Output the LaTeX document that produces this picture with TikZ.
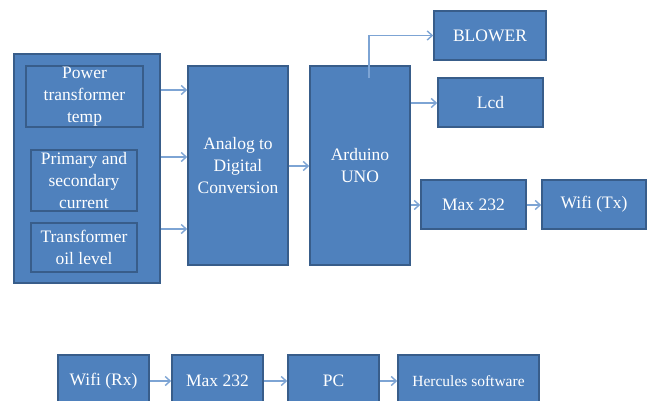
\documentclass[tikz,border=0pt]{standalone}
\usepackage{fontspec}
\setmainfont{Liberation Serif}
\usetikzlibrary{arrows.meta}
\definecolor{boxfill}{HTML}{4F81BD}
\definecolor{boxline}{HTML}{385D8A}
\definecolor{arrcol}{HTML}{7DA4D4}
\begin{document}
\begin{tikzpicture}[x=1pt,y=1pt,
  blk/.style={draw=boxline,fill=boxfill,line width=1.5pt,text=white,align=center,inner sep=0pt,
    font=\fontsize{17.5}{22}\selectfont},
  arr/.style={draw=arrcol,line width=1.4pt,-{Straight Barb[length=5pt,width=9pt]}}]
\useasboundingbox (0,0) rectangle (647,400);
\clip (0,0) rectangle (647,400);
% helper: box from corners (x1,y1top) (x2,y2bottom) in image px
\newcommand{\blkbox}[6][]{%
  \node[blk,minimum width={#4-#2},minimum height={#5-#3},#1] (#6) at ({(#2+#4)/2},{400-(#3+#5)/2}) {};}
\blkbox{14}{54}{160}{283}{outer}
\node[blk,minimum width=117,minimum height=61] (p1) at (84.5,{400-96.5}) {Power\\transformer\\temp};
\node[blk,minimum width=106,minimum height=61] (p2) at (84,{400-180.5}) {Primary and\\secondary\\current};
\node[blk,minimum width=106,minimum height=49] (p3) at (84,{400-247.5}) {Transformer\\oil level};
\node[blk,minimum width=100,minimum height=199] (adc) at (238,{400-165.5}) {Analog to\\Digital\\Conversion};
\node[blk,minimum width=100,minimum height=199] (ard) at (360,{400-165.5}) {Arduino\\UNO};
\node[blk,minimum width=112,minimum height=49] (blower) at (490,{400-35.5}) {BLOWER};
\node[blk,minimum width=105,minimum height=49] (lcd) at (490.5,{400-102.5}) {Lcd};
\node[blk,minimum width=105,minimum height=49] (max1) at (473.5,{400-204.5}) {Max 232};
\node[blk,minimum width=104,minimum height=49] (wtx) at (594,{400-204.5}) {Wifi (Tx)};
\node[blk,minimum width=91,minimum height=60] (wrx) at (103.5,{400-385}) {};
\node[blk,minimum width=91,minimum height=60] (max2) at (217.5,{400-385}) {};
\node[blk,minimum width=91,minimum height=60] (pc) at (333.5,{400-385}) {};
\node[blk,minimum width=141,minimum height=60] (herc) at (468.5,{400-385}) {};
\node[text=white,font=\fontsize{17.5}{22}\selectfont] (wrxt) at (103.5,{400-381}) {Wifi (Rx)};
\node[text=white,font=\fontsize{17.5}{22}\selectfont] (max2t) at (217.5,{400-381}) {Max 232};
\node[text=white,font=\fontsize{17.5}{22}\selectfont] (pct) at (333.5,{400-381}) {PC};
\node[text=white,font=\fontsize{15.5}{20}\selectfont] (herct) at (468.5,{400-381}) {Hercules software};
% coordinates for arrow heights
\coordinate (y1) at (0,{400-90});
\coordinate (y2) at (0,{400-157});
\coordinate (y3) at (0,{400-229});
\coordinate (y4) at (0,{400-166});
\coordinate (y5) at (0,{400-103});
\coordinate (y6) at (0,{400-205});
\coordinate (y7) at (0,{400-381});
\coordinate (bl) at (369,{400-78});
\draw[arr] (outer.east |- y1) -- (adc.west |- y1);
\draw[arr] (outer.east |- y2) -- (adc.west |- y2);
\draw[arr] (outer.east |- y3) -- (adc.west |- y3);
\draw[arr] (adc.east |- y4) -- (ard.west |- y4);
\draw[arr] (bl) |- (blower.west);
\draw[arr] (ard.east |- y5) -- (lcd.west |- y5);
\draw[arr] (ard.east |- y6) -- (max1.west |- y6);
\draw[arr] (max1.east |- y6) -- (wtx.west |- y6);
\draw[arr] (wrx.east |- y7) -- (max2.west |- y7);
\draw[arr] (max2.east |- y7) -- (pc.west |- y7);
\draw[arr] (pc.east |- y7) -- (herc.west |- y7);
\end{tikzpicture}
\end{document}
